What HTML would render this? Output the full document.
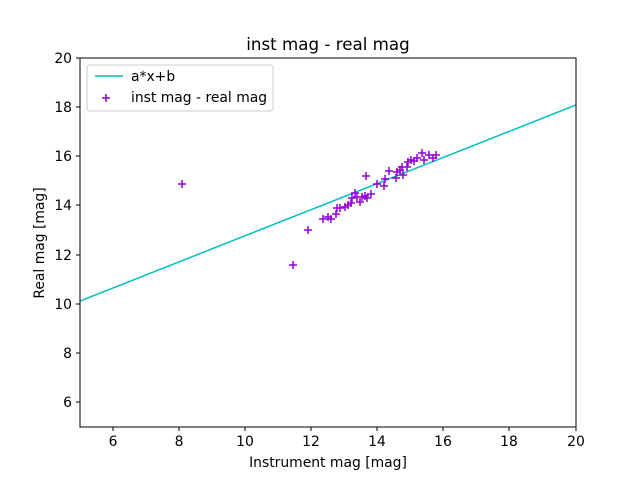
<!DOCTYPE html>
<html><head><meta charset="utf-8"><style>body{margin:0;background:#fff}</style></head><body>
<svg width="640" height="480" xmlns="http://www.w3.org/2000/svg" font-family="DejaVu Sans, Liberation Sans, sans-serif">
<rect width="640" height="480" fill="#fff"/>
<defs><clipPath id="c"><rect x="80" y="58" width="496" height="369"/></clipPath></defs>
<line x1="80" y1="301" x2="576" y2="105" stroke="#00bfbf" stroke-width="1.5" clip-path="url(#c)"/>
<g stroke="#9400d3" stroke-width="1.5" fill="none">
<path d="M178,184h8M182,180v8 M289,265h8M293,261v8 M304,230h8M308,226v8 M319,219h8M323,215v8 M324,217h8M328,213v8 M327,219h8M331,215v8 M332,214h8M336,210v8 M333,208h8M337,204v8 M336,208h8M340,204v8 M341,207h8M345,203v8 M344,205h8M348,201v8 M347,203h8M351,199v8 M348,198h8M352,194v8 M351,193h8M355,189v8 M353,197h8M357,193v8 M356,202h8M360,198v8 M358,197h8M362,193v8 M361,196h8M365,192v8 M363,198h8M367,194v8 M367,194h8M371,190v8 M362,176h8M366,172v8 M373,184h8M377,180v8 M380,186h8M384,182v8 M381,179h8M385,175v8 M385,171h8M389,167v8 M392,178h8M396,174v8 M393,172h8M397,168v8 M396,170h8M400,166v8 M399,175h8M403,171v8 M398,167h8M402,163v8 M403,167h8M407,163v8 M404,162h8M408,158v8 M407,160h8M411,156v8 M410,161h8M414,157v8 M413,158h8M417,154v8 M418,153h8M422,149v8 M420,160h8M424,156v8 M425,155h8M429,151v8 M429,158h8M433,154v8 M432,155h8M436,151v8"/>
</g>
<rect x="80" y="58" width="496" height="369" fill="none" stroke="#000" stroke-width="1"/>
<g stroke="#000" stroke-width="1">
<path d="M113,427v4M179,427v4M245,427v4M311,427v4M377,427v4M443,427v4M509,427v4M576,427v4"/>
<path d="M80,402h-4M80,353h-4M80,304h-4M80,255h-4M80,205h-4M80,156h-4M80,107h-4M80,58h-4"/>
</g>
<g font-size="13.9" fill="#000" text-anchor="middle">
<text x="113" y="446">6</text><text x="179" y="446">8</text><text x="245" y="446">10</text><text x="311" y="446">12</text><text x="377" y="446">14</text><text x="443" y="446">16</text><text x="509" y="446">18</text><text x="576" y="446">20</text>
</g>
<g font-size="13.9" fill="#000" text-anchor="end">
<text x="72" y="407">6</text><text x="72" y="358">8</text><text x="72" y="309">10</text><text x="72" y="260">12</text><text x="72" y="210">14</text><text x="72" y="161">16</text><text x="72" y="112">18</text><text x="72" y="63">20</text>
</g>
<text x="328" y="467" font-size="13.9" text-anchor="middle">Instrument mag [mag]</text>
<text x="44" y="243" font-size="13.9" text-anchor="middle" transform="rotate(-90 44 243)">Real mag [mag]</text>
<text x="328" y="50" font-size="16.7" text-anchor="middle">inst mag - real mag</text>
<rect x="87" y="65" width="186" height="46" rx="3" fill="#fff" fill-opacity="0.8" stroke="#ccc"/>
<line x1="95" y1="76" x2="123" y2="76" stroke="#00bfbf" stroke-width="1.5"/>
<path d="M102,98h8M106,94v8" stroke="#9400d3" stroke-width="1.5"/>
<text x="131" y="81" font-size="13.9">a*x+b</text>
<text x="131" y="102" font-size="13.9">inst mag - real mag</text>
</svg>
</body></html>
